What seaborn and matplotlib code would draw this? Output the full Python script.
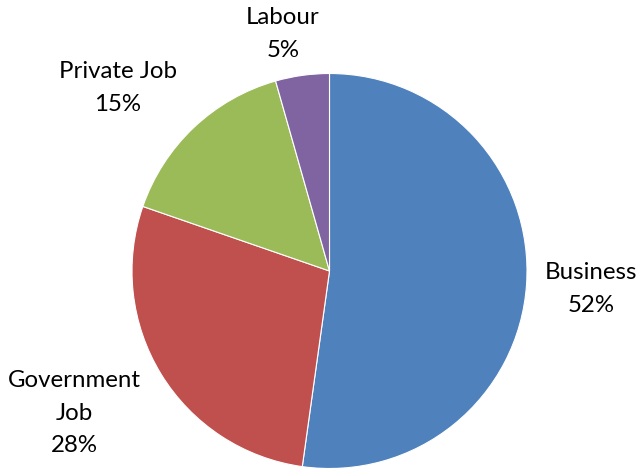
import matplotlib
matplotlib.use("Agg")
import matplotlib.pyplot as plt
import seaborn as sns

categories = ["Business", "Government Job", "Private Job", "Labour"]
values = [52.2, 28.1, 15.3, 4.4]
pct_labels = ["52%", "28%", "15%", "5%"]
label_text = ["Business", "Government\nJob", "Private Job", "Labour"]
colors = ["#4F81BD", "#C0504D", "#9BBB59", "#8064A2"]

sns.set_style("white")
plt.rcParams['font.family'] = ['Lato', 'DejaVu Sans']

W, H = 639, 468
fig = plt.figure(figsize=(W / 100, H / 100), dpi=100)
ax = fig.add_axes([0, 0, 1, 1])
ax.set_xlim(0, W)
ax.set_ylim(0, H)
ax.set_aspect('equal')
ax.axis('off')

ax.pie(values, colors=colors, startangle=90, counterclock=False,
       center=(329.5, H - 271), radius=197.5,
       wedgeprops=dict(edgecolor='white', linewidth=0.8))
ax.set_xlim(0, W)
ax.set_ylim(0, H)

# label positions in pixel coords (x, y from top)
label_pos = {"Business": (591, 289), "Government Job": (74, 413),
             "Private Job": (118, 88), "Labour": (283, 34)}
for cat, txt, pct in zip(categories, label_text, pct_labels):
    x, y = label_pos[cat]
    ax.text(x, H - y, f"{txt}\n{pct}", ha='center', va='center',
            multialignment='center', fontsize=17.3, linespacing=1.68,
            color='black')

fig.savefig("out.png", dpi=100)
